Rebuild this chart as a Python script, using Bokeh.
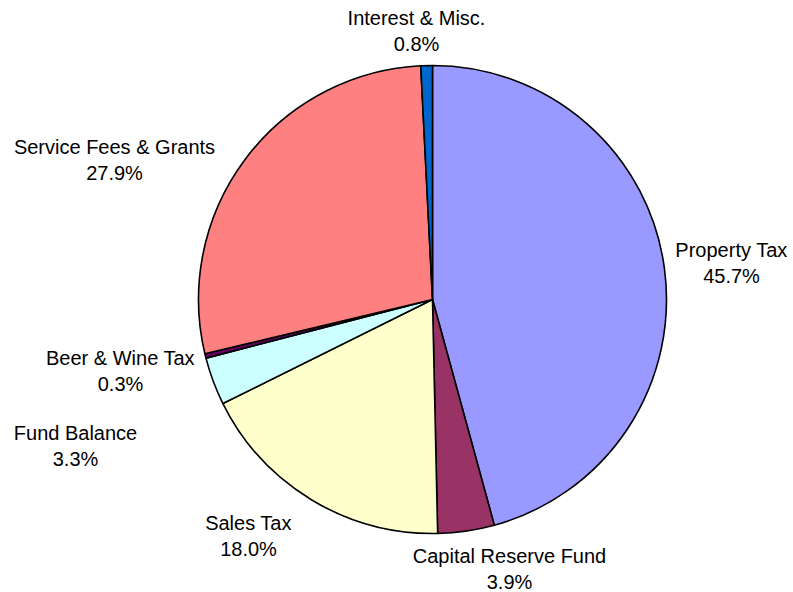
import math
from bokeh.plotting import figure
from bokeh.models import Range1d, ColumnDataSource
from bokeh.core.properties import value
from bokeh.embed import file_html
from bokeh.resources import INLINE

categories = ["Property Tax", "Capital Reserve Fund", "Sales Tax", "Fund Balance",
              "Beer & Wine Tax", "Service Fees & Grants", "Interest & Misc."]
shares = [45.7, 3.9, 18.0, 3.3, 0.3, 27.9, 0.8]
colors = ["#9999FF", "#993366", "#FFFFCC", "#CCFFFF", "#660066", "#FF8080", "#0066CC"]

# label anchor positions (picture pixels: x, y of first line)
label_pos = [(731, 249), (509, 555), (248, 522), (75, 432), (120, 357), (114, 146), (416, 17)]

W, H = 793, 592
p = figure(width=W, height=H, output_backend="svg", toolbar_location=None,
           x_range=Range1d(0, W), y_range=Range1d(0, H),
           min_border=0, outline_line_color=None)
p.axis.visible = False
p.grid.visible = False
p.background_fill_color = "white"
p.border_fill_color = "white"

total = sum(shares)
starts, ends = [], []
cum = 0.0
for s in shares:
    starts.append(math.pi / 2 - 2 * math.pi * cum / total)
    cum += s
    ends.append(math.pi / 2 - 2 * math.pi * cum / total)

src = ColumnDataSource(dict(start=starts, end=ends, color=colors, name=categories))
cx, cy, r = 432, H - 299, 234
p.wedge(x=cx, y=cy, radius=r, start_angle="start", end_angle="end", direction="clock",
        fill_color="color", line_color="black", line_width=1.6, source=src)

tx, ty, tt = [], [], []
for name, s, (lx, ly) in zip(categories, shares, label_pos):
    tx += [lx, lx]
    ty += [H - ly, H - ly - 26]
    tt += [name, f"{s:.1f}%"]
p.text(x=tx, y=ty, text=tt, text_align="center", text_baseline="middle",
       text_font=value("Liberation Sans"), text_font_size="20px", text_color="black")

open("out.html", "w").write(file_html(p, INLINE))
